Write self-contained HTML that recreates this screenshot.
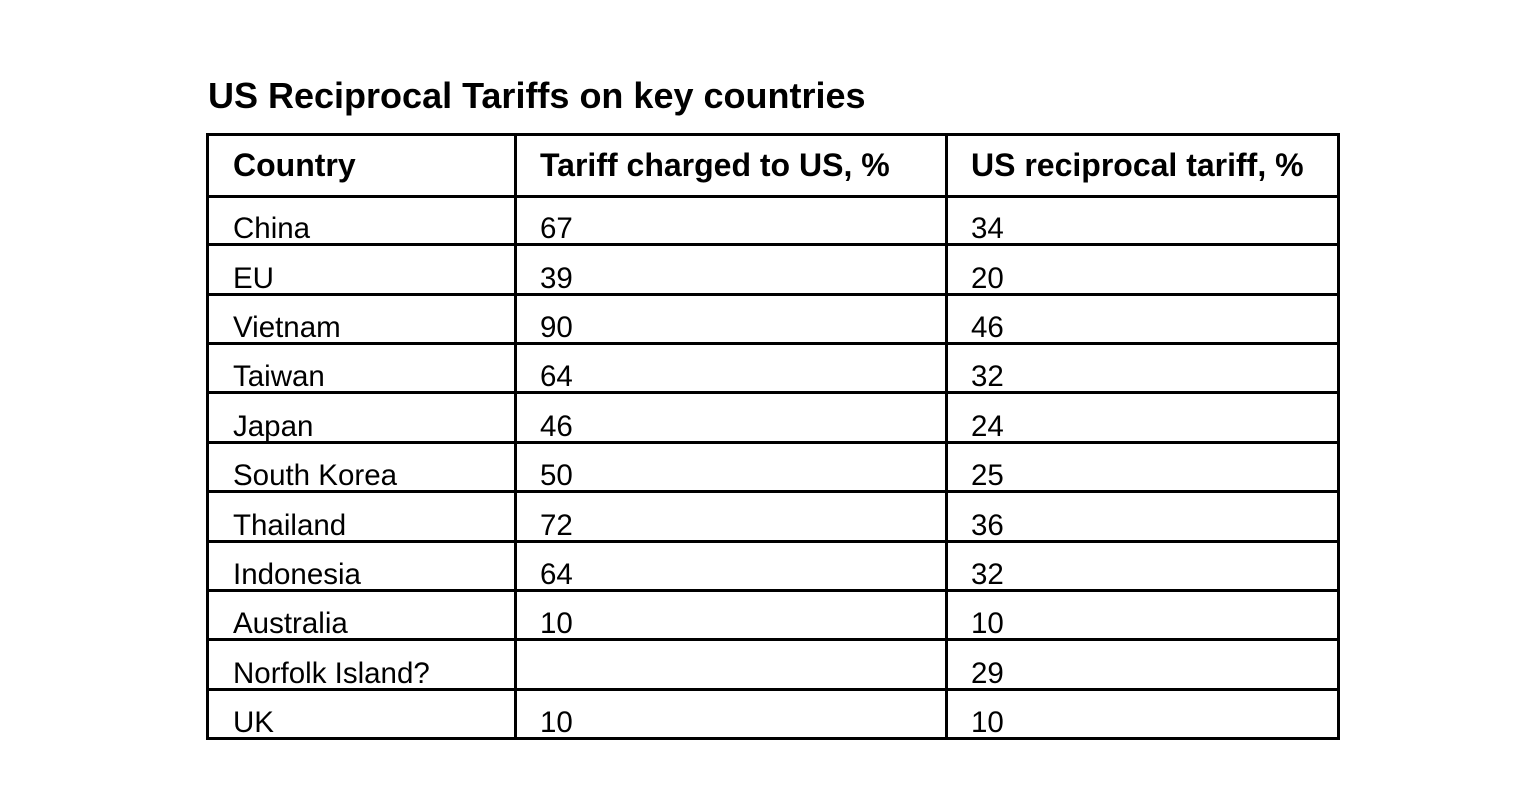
<!DOCTYPE html>
<html><head><meta charset="utf-8"><style>
body{margin:0;width:1536px;height:804px;background:#fff;position:relative;overflow:hidden;font-family:"Liberation Sans",sans-serif;color:#000}
.t{position:absolute;white-space:nowrap;line-height:1}
.h{position:absolute;background:#000}
</style></head><body>
<div class="t" style="left:208px;top:78px;font-size:36px;font-weight:bold">US Reciprocal Tariffs on key countries</div>
<div id="tbl"></div>
<script>
const countries=["China","EU","Vietnam","Taiwan","Japan","South Korea","Thailand","Indonesia","Australia","Norfolk Island?","UK"];
const charged=["67","39","90","64","46","50","72","64","10","","10"];
const reciprocal=["34","20","46","32","24","25","36","32","10","29","10"];
const headers=["Country","Tariff charged to US, %","US reciprocal tariff, %"];
const tbl=document.getElementById('tbl');
const colX=[233,540,971];
function line(x,y,w,h,n){const d=document.createElement('div');d.className='h';


d.style.cssText=`left:${x}px;top:${y}px;width:${w}px;height:${h}px`;tbl.appendChild(d);}
function txt(s,x,y,size,b,n){const d=document.createElement('div');d.className='t';


d.style.cssText=`left:${x}px;top:${y}px;font-size:${size}px;${b?'font-weight:bold;':''}`;d.textContent=s;tbl.appendChild(d);}
line(206,133,1134,3,'table-top-border');
line(206,195,1134,3,'header-bottom-border');
const rowH=(738-195)/countries.length;
for(let i=0;i<countries.length;i++){const y=Math.round(195+rowH*(i+1));line(206,y-1,1134,3,'row-border');}
line(206,133,3,607,'table-left-border');
line(514,133,3,607,'column-border');
line(945,133,3,607,'column-border');
line(1337,133,3,607,'table-right-border');
headers.forEach((h,i)=>txt(h,colX[i],149,32,true,'column-header'));
countries.forEach((c,i)=>{const y=Math.round(195+rowH*(i+1))-30;
txt(c,colX[0],y,29.5,false,'country-cell');
txt(charged[i],colX[1],y,29.5,false,'charged-cell');
txt(reciprocal[i],colX[2],y,29.5,false,'reciprocal-cell');});
</script>
</body></html>
